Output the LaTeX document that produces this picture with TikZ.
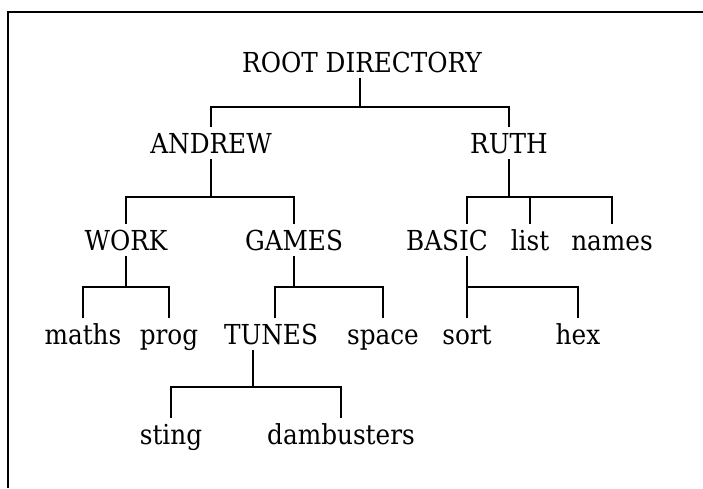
\documentclass[tikz,border=0pt]{standalone}
\usepackage{fontspec}
\setmainfont{DejaVu Serif Condensed}
\usetikzlibrary{positioning}

\begin{document}
\begin{tikzpicture}[x=1pt, y=-1pt,
    dir/.style={font=\fontsize{27.5}{33}\selectfont, inner sep=0pt, anchor=base, text height=26pt, text depth=6pt},
    link/.style={line width=1.5pt}
]
\useasboundingbox (0,0) rectangle (703,488);

% frame, only top and left edge are visible
\draw[link] (8,488) |- (703,12);

\node[dir] (root) at (362,72) {ROOT DIRECTORY};

\node[dir] (andrew) at (211,153) {ANDREW};
\node[dir] (ruth) at (509,153) {RUTH};

\node[dir] (work) at (126,250) {WORK};
\node[dir] (games) at (294,250) {GAMES};
\node[dir] (basic) at (447,250) {BASIC};
\node[dir] (list) at (530,250) {list};
\node[dir] (names) at (612,250) {names};

\node[dir] (maths) at (83,344) {maths};
\node[dir] (prog) at (169,344) {prog};
\node[dir] (tunes) at (271,344) {TUNES};
\node[dir] (space) at (383,344) {space};
\node[dir] (sort) at (467,344) {sort};
\node[dir] (hex) at (578,344) {hex};

\node[dir] (sting) at (171,444) {sting};
\node[dir] (dambusters) at (341,444) {dambusters};

% branches
\draw[link] ([xshift=-2pt]root.south) -- ++(0,29) coordinate (j0);
\draw[link] (andrew.north) |- (j0) -| (ruth.north);

\draw[link] (andrew.south) -- ++(0,38) coordinate (j1);
\draw[link] (work.north) |- (j1) -| (games.north);

\draw[link] (ruth.south) -- ++(0,38) coordinate (j2);
\draw[link] ([xshift=20pt]basic.north) |- (j2) -| (names.north);
\draw[link] (list.north) -- (list.north |- j2);

\draw[link] (work.south) -- ++(0,31) coordinate (j3);
\draw[link] (maths.north) |- (j3) -| (prog.north);

\draw[link] (games.south) -- ++(0,31) coordinate (j4);
\draw[link] ([xshift=4pt]tunes.north) |- (j4) -| (space.north);

\draw[link] ([xshift=20pt]basic.south) -- ++(0,31) coordinate (j5) -| (hex.north);
\draw[link] (j5) -- (sort.north);

\draw[link] ([xshift=-18pt]tunes.south) -- ++(0,37) coordinate (j6);
\draw[link] (sting.north) |- (j6) -| (dambusters.north);
\end{tikzpicture}
\end{document}
